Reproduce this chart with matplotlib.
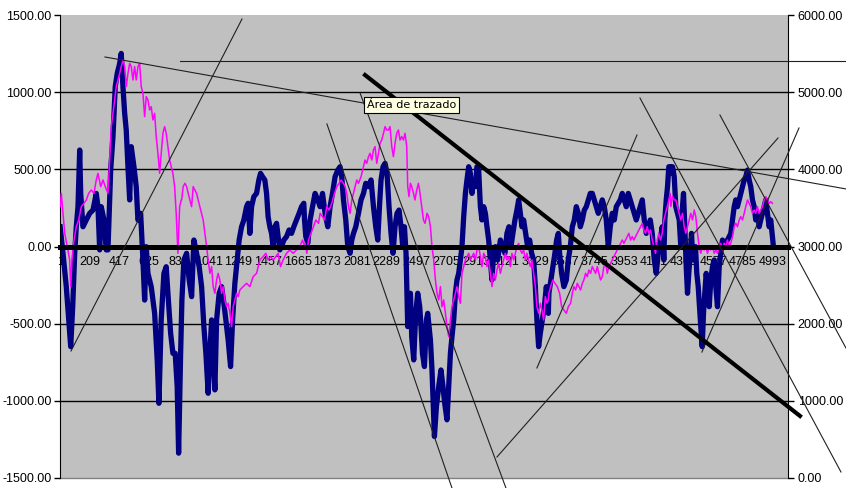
import matplotlib
matplotlib.use('Agg')
import matplotlib.pyplot as plt

# serie principal (eje izquierdo)
navy_x = [1, 21, 44, 61, 75, 89, 103, 114, 126, 138, 145, 161, 184, 208, 231, 254, 266, 278, 289, 308,
          324, 336, 355, 371, 387, 401, 418, 429, 441, 453, 464, 476, 488, 499, 518, 534, 546, 565, 581, 593,
          604, 616, 639, 663, 681, 693, 709, 728, 744, 756, 775, 791, 807, 821, 831, 845, 854,
          868, 887, 905, 922, 938, 957, 975, 992, 1008, 1022, 1038, 1050, 1062, 1073, 1085, 1097, 1115, 1132,
          1148, 1162, 1178, 1195, 1209, 1225, 1241, 1255, 1272, 1288, 1307, 1318, 1330, 1342, 1358, 1377, 1393,
          1405, 1419, 1435, 1447, 1458, 1470, 1482, 1493, 1505, 1517, 1528, 1540, 1552, 1568, 1587, 1605, 1622,
          1638, 1657, 1675, 1692, 1708,
          1713, 1722, 1736, 1752, 1769, 1787, 1806, 1822, 1839, 1857, 1876, 1892, 1909, 1927, 1946, 1962, 1974,
          1986, 2002, 2016, 2032, 2044, 2056, 2072, 2091, 2109, 2126, 2142, 2161, 2179, 2196, 2212, 2226, 2238,
          2249, 2263, 2277, 2291, 2305, 2319, 2333, 2347, 2361, 2375, 2389, 2401, 2413, 2424, 2431, 2436, 2445,
          2455, 2464, 2478, 2492, 2506, 2520, 2529, 2539, 2553, 2567,
          2576, 2595, 2606, 2623, 2637, 2653, 2669, 2683, 2695, 2711, 2723, 2735, 2746, 2758, 2770, 2781, 2793,
          2805, 2816, 2828, 2840, 2851, 2863, 2875, 2886, 2898, 2910, 2921, 2933, 2945, 2956, 2968, 2980, 2991,
          3003, 3015, 3026, 3038, 3050, 3066, 3085, 3101, 3117, 3131, 3145, 3159, 3173, 3187, 3201, 3213, 3225,
          3236, 3248, 3262, 3276, 3290, 3304, 3318, 3330, 3341, 3353, 3365, 3379, 3393, 3407, 3421,
          3425, 3439, 3453, 3467, 3479, 3491, 3500, 3514, 3530, 3547, 3561, 3575, 3589, 3603, 3617, 3631, 3645,
          3659, 3673, 3687, 3701, 3715, 3729, 3743, 3757, 3771, 3785, 3799, 3813, 3827, 3841, 3855, 3869, 3883,
          3897, 3911, 3925, 3939, 3953, 3967, 3981, 3995, 4009, 4023, 4037, 4051, 4065, 4079, 4093, 4107, 4121,
          4135, 4149, 4163, 4177, 4191, 4205, 4219, 4230, 4237, 4247, 4256, 4265, 4275,
          4279, 4291, 4303, 4314, 4326, 4338, 4349, 4361, 4368, 4377, 4387, 4396, 4405, 4415, 4424, 4433, 4443,
          4452, 4461, 4471, 4480, 4489, 4499, 4508, 4517, 4527, 4536, 4548, 4559, 4571, 4583, 4594, 4606, 4618,
          4629, 4641, 4653, 4664, 4676, 4688, 4699, 4711, 4723, 4734, 4746, 4758, 4769, 4781, 4793, 4804, 4816,
          4828, 4839, 4851, 4863, 4874, 4886, 4898, 4909, 4921, 4933, 4944, 4956, 4968, 4979, 4991, 4998]
navy_y = [128, -44, -260, -476, -649, -390, -44, 128, 258, 625, 344, 128, 172, 215, 236, 344, 258, -22, 258, 172,
          -22, -22, 495, 711, 1035, 1122, 1186, 1251, 1035, 863, 755, 517, 302, 647, 517, 388, 172, 215, -87, -347,
          -1, -174, -260, -433, -735, -1016, -476, -174, -131, -303, -562, -692, -692, -908, -1339, -692, -347,
          -87, -44, -217, -325, 42, -44, -131, -260, -519, -692, -951, -692, -476, -692, -929, -476, -303, -260,
          -368, -476, -606, -778, -476, -239, -87, 42, 128, 172, 258, 280, 85, 258, 323, 344, 431,
          474, 452, 431, 344, 193, 128, 85, -1, 128, 150, 64, -22, -1, 42, 64, 107, 85,
          128, 172, 215, 258, 280,
          172, 64, 21, 172, 258, 344, 302, 258, 344, 215, 128, 258, 344, 452, 495, 517, 452,
          302, 172, -1, -44, 42, 85, 128, 215, 302, 344, 409, 388, 431, 258, 128, 42, 258,
          431, 517, 539, 474, 258, 85, -44, 128, 215, 236, 128, -1, 128, -44, -325, -519, -368,
          -303, -584, -735, -433, -303, -390, -519, -692, -778, -476,
          -433, -606, -800, -1231, -1037, -908, -800, -908, -1016, -1123, -908, -692, -584, -476, -303, -217, -174,
          -87, -1, 193, 344, 431, 517, 474, 344, 431, 388, 517, 495, 258, 172, 258, 215, 128,
          42, -87, -217, -44, -1, -87, 42, -1, -44, 85, 128, -1, 85, 172, 236, 302, 215,
          128, 172, 85, -1, 42, -44, -87, -260, -476, -649, -562, -476, -390, -260, -433,
          -303, -217, -131, -44, 42, 85, -44, -174, -260, -217, -87, -1, 128, 172, 258, 215, 128,
          172, 236, 258, 302, 344, 344, 302, 258, 215, 258, 302, 258, 172, -1, 128, 215, 172,
          258, 280, 302, 344, 302, 258, 344, 302, 258, 215, 172, 215, 258, 302, 172, 85, 128,
          172, 85, -87, -174, -44, 42, 128, -87, 172, 302, 388, 517, 517,
          474, 517, 452, 258, 215, 172, -1, 258, 344, 128, -131, -303, -174, -44, 85, -87, -44,
          -1, -174, -260, -390, -519, -649, -433, -303, -174, -260, -390, -217, -131, -87, -260, -390, -131,
          -44, 42, -1, 21, 42, 64, 85, 172, 258, 302, 258, 302, 344, 388, 431, 452, 495,
          431, 388, 302, 258, 172, 215, 128, 172, 215, 258, 302, 215, 128, 172, 64, -1]

# serie secundaria (eje derecho)
pink_x = [1, 9, 21, 33, 51, 68, 75, 84, 98, 114, 131, 149, 168, 184, 201, 219, 238, 254, 266, 285, 301, 317,
          336, 348, 359, 371, 383, 394, 406, 418, 429, 441, 453, 464, 476, 488, 499, 511, 523, 534, 546, 558,
          569, 581, 593, 604, 616, 628, 639, 651, 663, 674, 686, 698, 709, 721, 733, 744, 756, 768, 779, 791,
          803, 814, 826, 838, 849,
          852, 863, 875, 887, 898, 910, 922, 933, 945, 957, 968, 980, 992, 1003, 1015, 1027, 1038, 1050, 1062,
          1073, 1085, 1097, 1108, 1120, 1132, 1143, 1155, 1167, 1178, 1190, 1202, 1213, 1225, 1237, 1248, 1260,
          1283, 1307, 1330, 1353, 1377, 1400, 1423, 1442, 1458, 1475, 1493, 1512, 1528, 1545, 1563, 1587, 1610,
          1633, 1657, 1680, 1699, 1713,
          1717, 1729, 1741, 1759, 1776, 1792, 1811, 1822, 1839, 1853, 1869, 1885, 1904, 1923, 1939, 1955, 1969,
          1986, 1997, 2009, 2021, 2032, 2044, 2056, 2067, 2079, 2091, 2109, 2126, 2137, 2149, 2161, 2172, 2184,
          2196, 2207, 2219, 2231, 2242, 2254, 2266, 2277, 2289, 2301, 2312, 2324, 2336, 2347, 2359, 2371, 2382,
          2394, 2406, 2417, 2429, 2436, 2445, 2455, 2464, 2476, 2487, 2499, 2511, 2522, 2534, 2546, 2557, 2567,
          2571, 2583, 2595, 2606, 2618, 2630, 2641, 2653, 2665, 2676, 2688, 2700, 2711, 2723, 2735, 2746, 2758,
          2770, 2781, 2793, 2805, 2816, 2828, 2840, 2851, 2863, 2875, 2886, 2898, 2910, 2921, 2933, 2945, 2956,
          2968, 2980, 2991, 3003, 3015, 3026, 3038, 3050, 3061, 3073, 3085, 3096, 3108, 3120, 3131, 3143, 3155,
          3166, 3178, 3190, 3201, 3213, 3225, 3236, 3248, 3260, 3271, 3283, 3295, 3306, 3318, 3330, 3341, 3353,
          3365, 3376, 3388, 3400, 3411, 3421,
          3425, 3437, 3453, 3467, 3484, 3500, 3514, 3530, 3547, 3561, 3577, 3589, 3600, 3612, 3624, 3635, 3647,
          3659, 3670, 3682, 3694, 3705, 3717, 3729, 3740, 3752, 3764, 3775, 3787, 3799, 3810, 3822, 3834, 3845,
          3857, 3869, 3880, 3892, 3904, 3915, 3927, 3939, 3950, 3962, 3974, 3985, 3997, 4009, 4020, 4032, 4044,
          4055, 4067, 4079, 4090, 4102, 4114, 4125, 4137, 4149, 4160, 4172, 4184, 4195, 4207, 4219, 4230, 4242,
          4254, 4265, 4275,
          4279, 4291, 4303, 4314, 4326, 4338, 4349, 4361, 4373, 4384, 4396, 4408, 4419, 4431, 4443, 4454, 4466,
          4478, 4489, 4501, 4513, 4524, 4536, 4548, 4559, 4571, 4583, 4594, 4606, 4618, 4629, 4641, 4653, 4664,
          4676, 4688, 4699, 4711, 4723, 4734, 4746, 4758, 4769, 4781, 4793, 4804, 4816, 4828, 4839, 4851, 4863,
          4874, 4886, 4898, 4909, 4921, 4933, 4944, 4956, 4968, 4979, 4991]
pink_y = [3516, 3689, 3430, 3171, 2998, 2825, 2480, 2825, 3084, 3257, 3344, 3516, 3560, 3603, 3689, 3732, 3689,
          3862, 3948, 3776, 3862, 3776, 3689, 4121, 4553, 4726, 4899, 5072, 5158, 5244, 5331, 5417, 5331, 5072,
          5244, 5374, 5331, 5158, 5331, 5158, 5331, 5374, 5072, 4985, 4683, 4942, 4899, 4769, 4812, 4640, 4726,
          4424, 4208, 3948, 4208, 4467, 4553, 4467, 4294, 4121, 4035, 3948, 3776, 3430, 2912, 3516, 3603,
          3603, 3776, 3819, 3776, 3689, 3603, 3516, 3776, 3732, 3689, 3603, 3516, 3430, 3344, 3171, 2998, 2825,
          2652, 2739, 2480, 2393, 2566, 2652, 2566, 2393, 2480, 2307, 2220, 2264, 2134, 1961, 2220, 2307, 2393,
          2350, 2436, 2480, 2523, 2480, 2609, 2652, 2825, 2868, 2912, 2825, 2868, 2825, 2868, 2912, 2739, 2825,
          2912, 2955, 2912, 2955, 2998, 3084, 2998,
          3041, 2912, 3084, 3171, 3257, 3344, 3300, 3430, 3387, 3344, 3516, 3473, 3560, 3689, 3776, 3819, 3862,
          3819, 3776, 3689, 3516, 3430, 3603, 3689, 3776, 3862, 3819, 3905, 4035, 4121, 4078, 4164, 4208, 4121,
          4251, 4294, 4078, 4208, 4337, 4380, 4467, 4553, 4510, 4510, 4553, 4294, 4164, 4337, 4467, 4510, 4380,
          4424, 4380, 4467, 4294, 3776, 3646, 3819, 3776, 3689, 3603, 3732, 3819, 3689, 3516, 3344, 3300, 3387,
          3430, 3387, 3257, 2998, 2825, 2566, 2393, 2307, 2480, 2220, 2307, 2134, 1961, 1832, 2048, 2220, 2307,
          2393, 2480, 2350, 2264, 2652, 2739, 2825, 2868, 2912, 2825, 2868, 2912, 2825, 2955, 2998, 2868, 2739,
          2912, 2868, 2739, 2825, 2652, 2480, 2652, 2566, 2696, 2782, 2652, 2739, 2825, 2912, 2825, 2868, 2739,
          2912, 2825, 2912, 2998, 3041, 2955, 2912, 2955, 2825, 2912, 2825, 2739, 2825, 2652, 2480, 2220, 2134,
          2264, 2177, 2048, 2350, 2264, 2307,
          2393, 2480, 2566, 2523, 2480, 2393, 2220, 2177, 2134, 2220, 2264, 2393, 2480, 2436, 2523, 2480, 2436,
          2523, 2566, 2652, 2609, 2696, 2652, 2739, 2696, 2652, 2739, 2652, 2566, 2609, 2739, 2782, 2652, 2739,
          2782, 2825, 2868, 2912, 2955, 2998, 3041, 3084, 3041, 3084, 3128, 3171, 3084, 3128, 3084, 3128, 3171,
          3214, 3257, 3300, 3214, 3171, 3257, 3171, 3214, 3084, 2998, 2912, 3084, 3171, 3084, 3171, 3344, 3430,
          3516, 3603, 3689,
          3516, 3646, 3603, 3603, 3516, 3430, 3344, 3430, 3257, 3171, 3257, 3344, 3430, 3344, 3473, 3387, 3171,
          2998, 2912, 2998, 2955, 2998, 2912, 2998, 2955, 2998, 2912, 2955, 2912, 2998, 3041, 2955, 3041, 2998,
          3084, 2998, 3041, 3128, 3257, 3300, 3257, 3344, 3387, 3344, 3430, 3516, 3603, 3560, 3516, 3430, 3473,
          3430, 3516, 3430, 3473, 3516, 3603, 3646, 3603, 3560, 3581, 3560]

xtick_pos = [1, 209, 417, 625, 833, 1041, 1249, 1457, 1665, 1873, 2081, 2289, 2497, 2705, 2913, 3121, 3329,
             3537, 3745, 3953, 4161, 4369, 4577, 4785, 4993]
left_ticks = [-1500, -1000, -500, 0, 500, 1000, 1500]
right_ticks = [0, 1000, 2000, 3000, 4000, 5000, 6000]

# lineas de tendencia dibujadas a mano (indice, valor eje izquierdo)
trend_lines = [
    ((315, 1228), (5506, 373)),
    ((841, 1202), (5506, 1202)),
    ((77, -677), (1275, 1474)),
    ((1870, 794), (2746, -1565)),
    ((2102, 995), (3124, -1565)),
    ((3061, -1364), (5030, 703)),
    ((3341, -787), (4042, 722)),
    ((4063, 962), (5471, -1461)),
    ((4497, -684), (5177, 768)),
    ((4623, 852), (5506, -658)),
]
thick_line = ((2137, 1111), (5184, -1098))

plt.rcParams['font.family'] = ['Liberation Sans', 'DejaVu Sans']

fig = plt.figure(figsize=(8.46, 4.88), dpi=100)
ax = fig.add_axes([60 / 846, 10 / 488, 728 / 846, 463 / 488])
ax.set_facecolor('#C0C0C0')
ax.set_xlim(0, 5100)
ax.set_ylim(-1500, 1500)
ax.set_yticks(left_ticks)
ax.set_yticklabels(['%.2f' % v for v in left_ticks], fontsize=9)
ax.tick_params(axis='y', direction='out', length=4, width=1, pad=2)
for v in [-1000, -500, 500, 1000]:
    ax.axhline(v, color='black', lw=1, zorder=1)

ax.plot(navy_x, navy_y, color='#000080', lw=3.8, zorder=2)

# eje de categorias cruzando en cero
ax.spines['bottom'].set_position(('data', 0))
ax.spines['bottom'].set_linewidth(0)
ax.spines['top'].set_visible(False)
ax.spines['right'].set_visible(False)
ax.set_xticks(xtick_pos)
ax.set_xticklabels([str(v) for v in xtick_pos], fontsize=9)
ax.tick_params(axis='x', length=0, pad=7)
ax.axhline(-1500, color='#808080', lw=1, clip_on=False, zorder=0)

ax2 = ax.twinx()
ax2.set_ylim(0, 6000)
ax2.set_yticks(right_ticks)
ax2.set_yticklabels(['%.2f' % v for v in right_ticks], fontsize=9)
ax2.tick_params(axis='y', direction='out', length=4, width=1, pad=3)
ax2.spines['top'].set_visible(False)
ax2.spines['bottom'].set_visible(False)
ax2.spines['left'].set_visible(False)
ax2.plot(pink_x, pink_y, color='#FF00FF', lw=1.1, zorder=2)

# linea cero gruesa y lineas de tendencia por encima de las series
ax2.plot([0, 5100], [0, 0], transform=ax.transData, color='black', lw=3.6, zorder=3, clip_on=False)
for (x0, y0), (x1, y1) in trend_lines:
    ax2.plot([x0, x1], [y0, y1], transform=ax.transData, color='#202020', lw=0.8,
             zorder=4, clip_on=False)
ax2.plot([thick_line[0][0], thick_line[1][0]], [thick_line[0][1], thick_line[1][1]],
         transform=ax.transData, color='black', lw=3, zorder=4, clip_on=False)

ax2.text(2150, 918, 'Área de trazado', transform=ax.transData, fontsize=8, va='center', ha='left',
         family='DejaVu Sans', zorder=5,
         bbox=dict(boxstyle='square,pad=0.25', facecolor='#FFFFE1', edgecolor='black', lw=0.8))

fig.savefig('out.png', dpi=100, facecolor='white')
